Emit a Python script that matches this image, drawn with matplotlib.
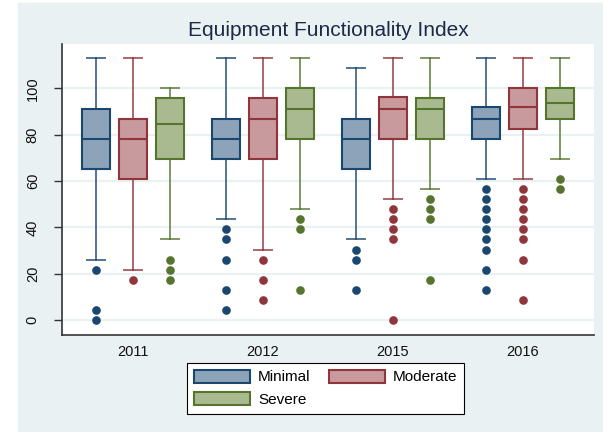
import matplotlib
matplotlib.use("Agg")
import matplotlib.pyplot as plt
from matplotlib.patches import Patch, Rectangle

plt.rcParams['font.family'] = ['Liberation Sans', 'DejaVu Sans']

years = ['2011', '2012', '2015', '2016']
groups = ['Minimal', 'Moderate', 'Severe']

# box summaries per group, one value per year
q1 = {
    'Minimal': [65.2, 69.6, 65.2, 78.3],
    'Moderate': [60.9, 69.6, 78.3, 82.6],
    'Severe': [69.6, 78.3, 78.3, 87.0],
}
med = {
    'Minimal': [78.3, 78.3, 78.3, 87.0],
    'Moderate': [78.3, 87.0, 91.3, 92.0],
    'Severe': [84.8, 91.3, 91.3, 93.5],
}
q3 = {
    'Minimal': [91.3, 87.0, 87.0, 92.0],
    'Moderate': [87.0, 95.7, 96.1, 100.0],
    'Severe': [95.7, 100.0, 95.7, 100.0],
}
whislo = {
    'Minimal': [26.1, 43.5, 34.8, 60.9],
    'Moderate': [21.7, 30.4, 52.2, 60.9],
    'Severe': [34.8, 47.8, 56.5, 69.6],
}
whishi = {
    'Minimal': [113.0, 113.0, 108.7, 113.0],
    'Moderate': [113.0, 113.0, 113.0, 113.0],
    'Severe': [100.0, 113.0, 113.0, 113.0],
}
outliers = {
    'Minimal': [[21.7, 4.3, 0.0],
                [39.1, 34.8, 26.1, 13.0, 4.3],
                [30.4, 26.1, 13.0],
                [56.5, 52.2, 47.8, 43.5, 39.1, 34.8, 30.4, 21.7, 13.0]],
    'Moderate': [[17.4],
                 [26.1, 17.4, 8.7],
                 [47.8, 43.5, 39.1, 34.8, 0.0],
                 [56.5, 52.2, 47.8, 43.5, 39.1, 34.8, 26.1, 8.7]],
    'Severe': [[26.1, 21.7, 17.4],
               [43.5, 39.1, 13.0],
               [52.2, 47.8, 43.5, 17.4],
               [60.9, 56.5]],
}

edge = {'Minimal': '#1a476f', 'Moderate': '#90353b', 'Severe': '#55752f'}
fill = {'Minimal': '#8ca3b9', 'Moderate': '#c8999d', 'Severe': '#aaba90'}
offset = {'Minimal': -0.285, 'Moderate': 0.0, 'Severe': 0.285}

bg = '#eaf1f3'
W, H = 603, 432
fig = plt.figure(figsize=(W / 100, H / 100), dpi=100, facecolor='white')
fig.patches.append(Rectangle((18 / W, 0), 1 - 18 / W, 1 - 3 / H,
                             transform=fig.transFigure, color=bg, zorder=-10))

ax = fig.add_axes([62 / W, (H - 335) / H, (594 - 62) / W, (335 - 44) / H])
ax.set_facecolor('white')

for g in groups:
    stats = []
    for i in range(len(years)):
        stats.append(dict(med=med[g][i], q1=q1[g][i], q3=q3[g][i],
                          whislo=whislo[g][i], whishi=whishi[g][i],
                          fliers=outliers[g][i]))
    pos = [i + offset[g] for i in range(len(years))]
    ax.bxp(stats, positions=pos, widths=0.216, capwidths=0.14,
           patch_artist=True, manage_ticks=False,
           boxprops=dict(facecolor=fill[g], edgecolor=edge[g], linewidth=1.5),
           whiskerprops=dict(color=edge[g], linewidth=1.4, alpha=0.75),
           capprops=dict(color=edge[g], linewidth=1.4, alpha=0.75),
           medianprops=dict(color=edge[g], linewidth=1.5),
           flierprops=dict(marker='o', markersize=5.2, markerfacecolor=edge[g],
                           markeredgecolor=edge[g], linestyle='none'))

ax.set_xlim(-0.547, 3.547)
ax.set_ylim(-6.5, 119.2)
ax.set_xticks(range(len(years)))
ax.set_xticklabels(years, fontsize=10.5, color='#111111')
ax.tick_params(axis='x', length=0, pad=7)
ax.set_yticks([0, 20, 40, 60, 80, 100])
ax.set_yticklabels(['0', '20', '40', '60', '80', '100'], rotation=90,
                   va='center', fontsize=10.5, color='#111111')
ax.tick_params(axis='y', length=6, width=1, color='#333333', pad=10)
ax.yaxis.grid(True, color=bg, linewidth=1.6)
ax.set_axisbelow(True)
for s in ['top', 'right']:
    ax.spines[s].set_visible(False)
for s in ['left', 'bottom']:
    ax.spines[s].set_color('#333333')
    ax.spines[s].set_linewidth(1.2)

fig.text(328 / W, 1 - 31 / H, 'Equipment Functionality Index',
         ha='center', va='center', fontsize=15, color='#1c2a48')

# legend: Minimal / Moderate on first row, Severe underneath
order = ['Minimal', 'Severe', 'Moderate']
handles = [Patch(facecolor=fill[g], edgecolor=edge[g], linewidth=1.5) for g in order]
leg = fig.legend(handles, order, loc='upper left',
                 bbox_to_anchor=(187 / W, 1 - 363 / H), borderaxespad=0,
                 ncol=2, fontsize=11, handlelength=3.7, handleheight=0.9,
                 handletextpad=0.5, columnspacing=1.2, labelspacing=0.5,
                 borderpad=0.45, fancybox=False, framealpha=1)
leg.get_frame().set_edgecolor('black')
leg.get_frame().set_linewidth(0.8)

fig.savefig('out.png', dpi=100)
